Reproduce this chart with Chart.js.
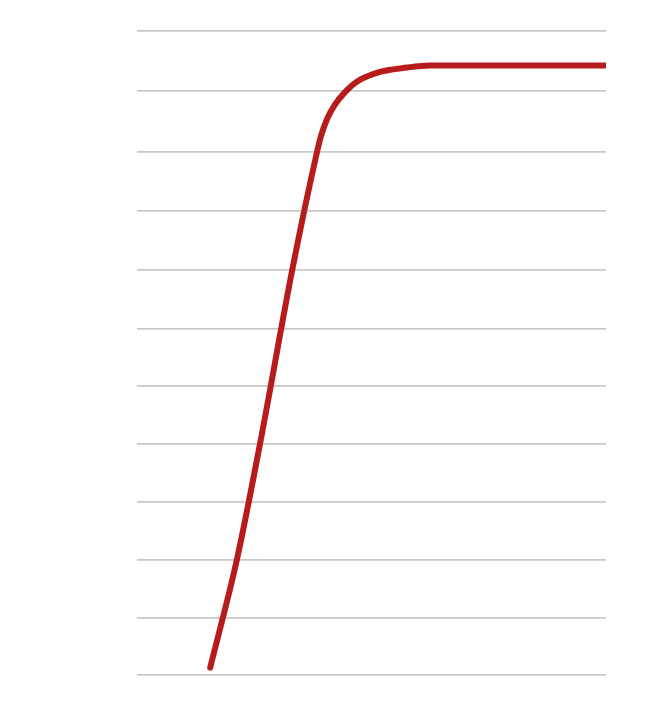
<!DOCTYPE html>
<html>
<head>
<meta charset="utf-8">
<title>Courbe</title>
<script src="https://cdn.jsdelivr.net/npm/chart.js@4/dist/chart.umd.min.js"></script>
<style>
    html, body { margin: 0; padding: 0; background: #ffffff; }
    #chart { display: block; }
</style>
</head>
<body>
<canvas id="chart" width="650" height="718"></canvas>
<script>
// Données
const xValues = [15.6, 21.3, 26.4, 33.1, 38.4, 39.2, 40.6, 42.1, 44.4, 46.8, 51.8, 57.5, 62.5, 100];
const yValues = [1.25, 19.7, 40.2, 69.2, 89.4, 92.0, 95.1, 97.3, 99.6, 101.3, 103.0, 103.75, 104.1, 104.1];

// Lignes de grille horizontales
const yTicks = [0, 9.8, 19.7, 29.5, 39.4, 49.4, 59.2, 69.2, 79.2, 89.4, 99.7, 110];

const points = xValues.map((x, i) => ({ x: x, y: yValues[i] }));

new Chart(document.getElementById('chart').getContext('2d'), {
    type: 'line',
    data: {
        datasets: [{
            data: points,
            borderColor: '#b71c1c',
            borderWidth: 6,
            borderCapStyle: 'round',
            borderJoinStyle: 'round',
            cubicInterpolationMode: 'monotone',
            pointRadius: 0,
            fill: false
        }]
    },
    options: {
        responsive: false,
        animation: false,
        layout: {
            padding: { left: 137, right: 44, top: 31, bottom: 43 }
        },
        plugins: {
            legend: { display: false },
            tooltip: { enabled: false }
        },
        scales: {
            x: {
                type: 'linear',
                display: false,
                min: 0,
                max: 100
            },
            y: {
                type: 'linear',
                min: 0,
                max: 110,
                afterBuildTicks: function (scale) {
                    scale.ticks = yTicks.map(v => ({ value: v }));
                },
                grid: {
                    color: '#c8c8c8',
                    lineWidth: 1.8,
                    drawTicks: false
                },
                border: { display: false },
                ticks: { display: false }
            }
        }
    }
});
</script>
</body>
</html>
